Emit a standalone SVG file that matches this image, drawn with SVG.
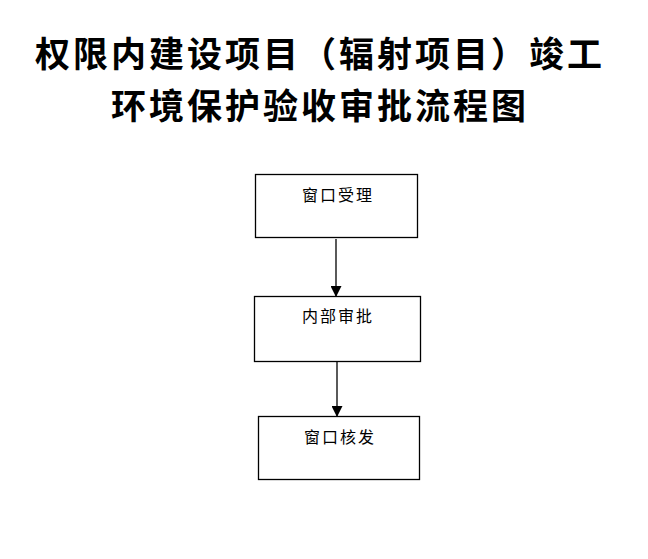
<svg xmlns="http://www.w3.org/2000/svg" width="648" height="559" viewBox="0 0 648 559">
<style>
.title{font-family:"Noto Sans CJK SC","Noto Sans CJK JP",sans-serif;font-weight:bold;font-size:35px;letter-spacing:3px;fill:#000;text-anchor:middle}
.box{fill:#fff;stroke:#000;stroke-width:1.3}
.lbl{font-family:"Noto Sans CJK SC","Noto Sans CJK JP",sans-serif;font-size:16px;fill:#000;text-anchor:middle;letter-spacing:2px}
.conn{stroke:#000;stroke-width:1.3;fill:none}
</style>
<defs>
<marker id="arr" markerWidth="11" markerHeight="11" refX="10" refY="5.5" orient="auto" markerUnits="userSpaceOnUse">
<path d="M0,0 L11,5.5 L0,11 z" fill="#000"/>
</marker>
</defs>
<rect width="648" height="559" fill="#fff"/>
<g id="title">
<text class="title" x="320" y="67">权限内建设项目（辐射项目）竣工</text>
<text class="title" x="320" y="118.5">环境保护验收审批流程图</text>
</g>
<g id="n1">
<rect class="box" x="255.5" y="174.5" width="162" height="63"/>
<text class="lbl" x="338" y="201">窗口受理</text>
</g>
<g id="n2">
<rect class="box" x="254.5" y="296.5" width="166" height="65"/>
<text class="lbl" x="338" y="322">内部审批</text>
</g>
<g id="n3">
<rect class="box" x="258.5" y="416.5" width="161" height="63"/>
<text class="lbl" x="340" y="443">窗口核发</text>
</g>
<g id="connectors">
<line class="conn" x1="336" y1="239" x2="336" y2="296" marker-end="url(#arr)"/>
<line class="conn" x1="337" y1="362" x2="337" y2="416" marker-end="url(#arr)"/>
</g>
</svg>
